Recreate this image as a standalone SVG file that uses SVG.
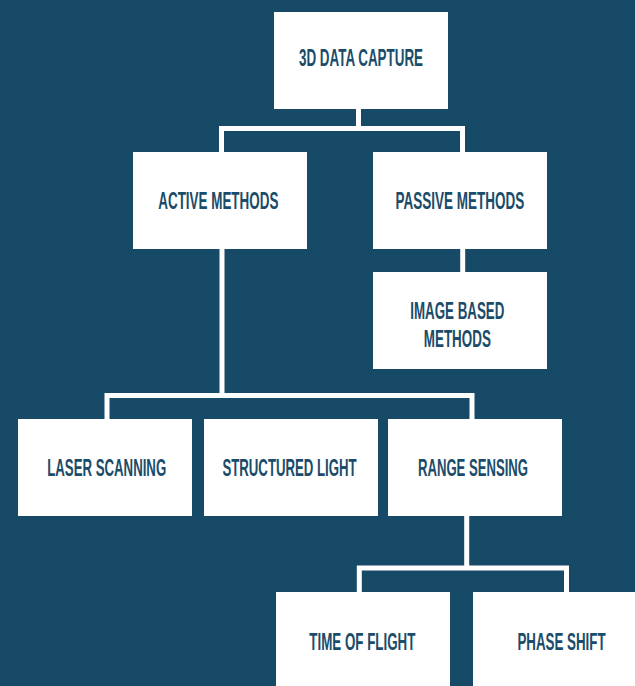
<svg xmlns="http://www.w3.org/2000/svg" width="635" height="686" viewBox="0 0 635 686">
<style>
.box{fill:#ffffff}
.lbl{font-family:"Liberation Sans",Arial,sans-serif;font-weight:bold;font-size:23px;fill:#1b4c69;text-anchor:middle}
.con{fill:none;stroke:#ffffff;stroke-width:5;stroke-linejoin:miter;stroke-linecap:butt}
</style>
<rect x="0" y="0" width="635" height="686" fill="#174a67"/>
<g id="connectors" class="con">
<path d="M358.5 108 V128.5 M221.5 152 V128.5 H462.5 V152"/>
<path d="M462.7 248 V272"/>
<path d="M222 248 V395.5 M107 419 V395.5 H472 V419"/>
<path d="M466.7 515 V568 M359.3 592 V568 H566.5 V592"/>
</g>
<g id="n-capture"><rect class="box" x="274" y="12" width="174" height="97"/><text class="lbl" transform="translate(361 66) scale(0.78 1)" textLength="159" lengthAdjust="spacingAndGlyphs">3D DATA CAPTURE</text></g>
<g id="n-active"><rect class="box" x="133" y="152" width="174" height="97"/><text class="lbl" transform="translate(218.3 209) scale(0.78 1)" textLength="154" lengthAdjust="spacingAndGlyphs">ACTIVE METHODS</text></g>
<g id="n-passive"><rect class="box" x="373" y="152" width="174" height="97"/><text class="lbl" transform="translate(459.8 209) scale(0.78 1)" textLength="165" lengthAdjust="spacingAndGlyphs">PASSIVE METHODS</text></g>
<g id="n-image"><rect class="box" x="373" y="272" width="174" height="97"/><text class="lbl" transform="translate(457.3 319) scale(0.78 1)" textLength="120.5" lengthAdjust="spacingAndGlyphs">IMAGE BASED</text><text class="lbl" transform="translate(457.3 347) scale(0.78 1)" textLength="86" lengthAdjust="spacingAndGlyphs">METHODS</text></g>
<g id="n-laser"><rect class="box" x="18" y="419" width="174" height="97"/><text class="lbl" transform="translate(106.7 476) scale(0.78 1)" textLength="152.5" lengthAdjust="spacingAndGlyphs">LASER SCANNING</text></g>
<g id="n-structured"><rect class="box" x="204" y="419" width="174" height="97"/><text class="lbl" transform="translate(289.5 476) scale(0.78 1)" textLength="172" lengthAdjust="spacingAndGlyphs">STRUCTURED LIGHT</text></g>
<g id="n-range"><rect class="box" x="388" y="419" width="174" height="97"/><text class="lbl" transform="translate(473 476) scale(0.78 1)" textLength="141" lengthAdjust="spacingAndGlyphs">RANGE SENSING</text></g>
<g id="n-tof"><rect class="box" x="276" y="592" width="174" height="97"/><text class="lbl" transform="translate(362.3 650) scale(0.78 1)" textLength="136" lengthAdjust="spacingAndGlyphs">TIME OF FLIGHT</text></g>
<g id="n-phase"><rect class="box" x="473" y="592" width="174" height="97"/><text class="lbl" transform="translate(561.5 650) scale(0.78 1)" textLength="113" lengthAdjust="spacingAndGlyphs">PHASE SHIFT</text></g>
</svg>
